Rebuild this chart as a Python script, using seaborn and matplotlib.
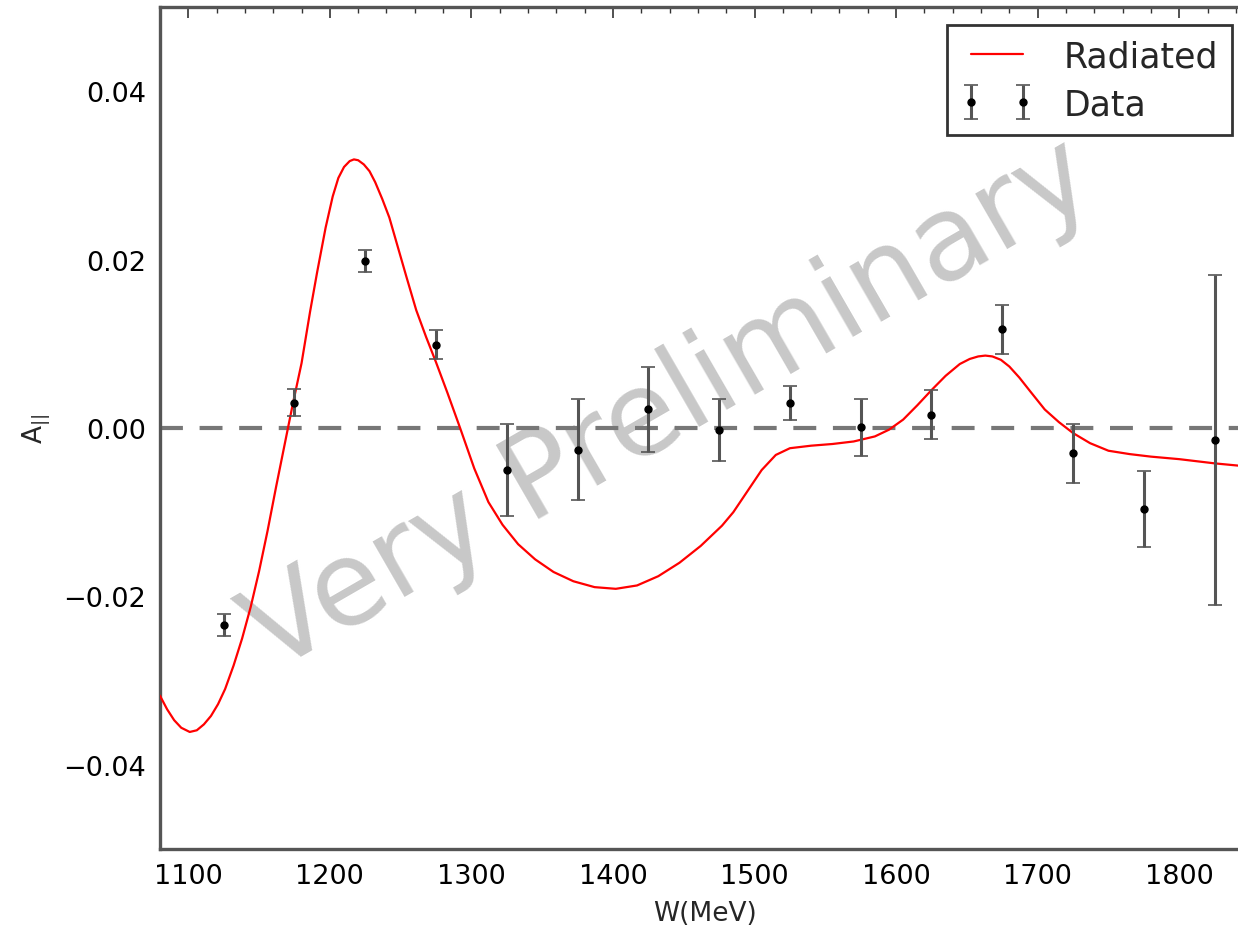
"""
plot.py

Double-polarisation asymmetry A_|| versus W with the radiated model curve.
"""

import matplotlib
matplotlib.use("Agg")
import matplotlib.pyplot as plt
import seaborn as sns
from matplotlib.ticker import MultipleLocator

# Measured points (bin centres, asymmetry, error)
W_DATA = [1125, 1175, 1225, 1275, 1325, 1375, 1425, 1475,
          1525, 1575, 1625, 1675, 1725, 1775, 1825]
A_DATA = [-0.0234, 0.0030, 0.0198, 0.0099, -0.0050, -0.0026, 0.0022, -0.0002,
          0.0030, 0.0001, 0.0016, 0.0117, -0.0030, -0.0096, -0.0014]
A_ERR = [0.0013, 0.0016, 0.0013, 0.0017, 0.0055, 0.0060, 0.0050, 0.0037,
         0.0020, 0.0034, 0.0029, 0.0029, 0.0035, 0.0045, 0.0196]

# Radiated model curve
W_FIT = [1080, 1085, 1090, 1095, 1101, 1106, 1111, 1116, 1121, 1126,
         1132, 1138, 1144, 1150, 1156, 1162, 1168, 1174, 1180, 1186,
         1191, 1197, 1202, 1206, 1210, 1214, 1217, 1220, 1224, 1228,
         1232, 1237, 1242, 1248, 1254, 1261, 1268, 1275, 1283, 1292,
         1302, 1312, 1322, 1333, 1345, 1358, 1372, 1387, 1402, 1417,
         1432, 1447, 1462, 1477, 1485, 1495, 1505, 1515, 1525, 1540,
         1555, 1570, 1585, 1595, 1605, 1615, 1625, 1635, 1645, 1652,
         1658, 1663, 1668, 1674, 1680, 1687, 1695, 1705, 1715, 1725,
         1737, 1750, 1765, 1780, 1800, 1825, 1850]
A_FIT = [-0.0318, -0.0334, -0.0347, -0.0356, -0.0361, -0.0359, -0.0352, -0.0342, -0.0328, -0.0310,
         -0.0282, -0.0250, -0.0213, -0.0170, -0.0122, -0.0070, -0.0020, 0.0030, 0.0077, 0.0138,
         0.0185, 0.0238, 0.0275, 0.0297, 0.0310, 0.0317, 0.0319, 0.0318, 0.0313, 0.0305,
         0.0292, 0.0272, 0.0250, 0.0215, 0.0180, 0.0140, 0.0108, 0.0078, 0.0042, 0.0000,
         -0.0048, -0.0088, -0.0115, -0.0138, -0.0156, -0.0171, -0.0182, -0.0189, -0.0191, -0.0187,
         -0.0176, -0.0160, -0.0140, -0.0116, -0.0100, -0.0075, -0.0050, -0.0032, -0.0024, -0.0021,
         -0.0019, -0.0016, -0.0010, -0.0002, 0.0010, 0.0027, 0.0045, 0.0062, 0.0076, 0.0082,
         0.0085, 0.0086, 0.0085, 0.0081, 0.0073, 0.0060, 0.0043, 0.0022, 0.0007, -0.0006,
         -0.0018, -0.0027, -0.0031, -0.0034, -0.0037, -0.0042, -0.0046]

FIG_W, FIG_H = 1238, 929


def main() -> None:
    sns.set_style("white")
    plt.rcParams["font.family"] = ["DejaVu Sans"]
    plt.rcParams["mathtext.fontset"] = "dejavusans"

    fig = plt.figure(figsize=(FIG_W / 100, FIG_H / 100), dpi=100)
    # axes run slightly past the right edge, as in the cropped original
    ax = fig.add_axes([160 / FIG_W, 79 / FIG_H, 1090 / FIG_W, 842 / FIG_H])

    ax.text(0.468, 0.527, "Very Preliminary", transform=ax.transAxes,
            fontsize=84, color="#c8c8c8", rotation=30,
            ha="center", va="center", zorder=0)

    ax.axhline(0, color="#777777", lw=3, ls=(0, (5.5, 4)), zorder=1)

    sns.lineplot(x=W_FIT, y=A_FIT, ax=ax, color="red", lw=1.6,
                 sort=False, estimator=None, label="Radiated", zorder=3)

    ax.errorbar(W_DATA, A_DATA, yerr=A_ERR, fmt="o", color="black",
                ms=5, ecolor="#555555", elinewidth=2.2, capsize=5,
                capthick=1.2, label="Data", zorder=4)

    ax.set_xlim(1080, 1850)
    ax.set_ylim(-0.05, 0.05)
    ax.xaxis.set_major_locator(MultipleLocator(100))
    ax.xaxis.set_minor_locator(MultipleLocator(20))
    ax.yaxis.set_major_locator(MultipleLocator(0.02))
    ax.yaxis.set_minor_locator(MultipleLocator(0.005))
    ax.yaxis.set_major_formatter(plt.FuncFormatter(
        lambda v, _: f"{v:.2f}".replace("-", "\u2212")))

    ax.tick_params(which="both", direction="in", top=True, right=True,
                   labelsize=19.5, colors="#333333", labelcolor="black")
    ax.tick_params(which="major", length=8, width=1.2, pad=10)
    ax.tick_params(which="minor", length=4, width=1.0)
    for spine in ax.spines.values():
        spine.set_color("#555555")
        spine.set_linewidth(2.4)

    ax.set_xlabel("W(MeV)", fontsize=19, labelpad=8)
    ax.set_ylabel(r"A$_{||}$", fontsize=19, labelpad=8)

    leg = ax.legend(loc="upper right", fontsize=25, numpoints=2,
                    handlelength=2.1, handletextpad=0.85, borderpad=0.4,
                    labelspacing=0.4, fancybox=False, framealpha=1,
                    borderaxespad=0.53)
    leg.get_frame().set_edgecolor("#333333")
    leg.get_frame().set_linewidth(2)

    fig.savefig("out.png", dpi=100)
    plt.close(fig)


if __name__ == "__main__":
    main()
